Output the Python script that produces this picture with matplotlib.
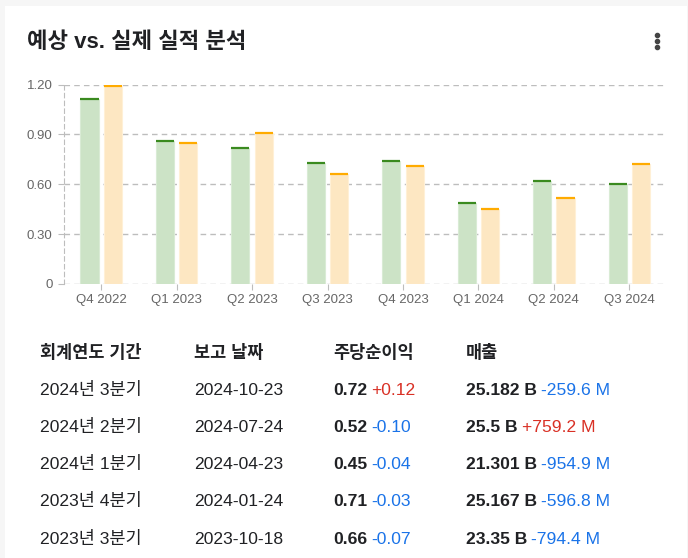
import matplotlib
matplotlib.use("Agg")
import matplotlib.pyplot as plt
from matplotlib.patches import Rectangle
from matplotlib.lines import Line2D

plt.rcParams["font.family"] = ["Liberation Sans", "Noto Sans CJK KR"]

# -----------------------------
# Chart data
# -----------------------------
quarters = ["Q4 2022", "Q1 2023", "Q2 2023", "Q3 2023",
            "Q4 2023", "Q1 2024", "Q2 2024", "Q3 2024"]
estimate = [1.11, 0.86, 0.82, 0.73, 0.74, 0.49, 0.62, 0.60]
actual = [1.19, 0.85, 0.91, 0.66, 0.71, 0.45, 0.52, 0.72]
y_ticks = [0, 0.30, 0.60, 0.90, 1.20]
y_tick_labels = ["0", "0.30", "0.60", "0.90", "1.20"]

# table data
headers = ["회계연도 기간", "보고 날짜", "주당순이익", "매출"]
periods = ["2024년 3분기", "2024년 2분기", "2024년 1분기", "2023년 4분기", "2023년 3분기"]
dates = ["2024-10-23", "2024-07-24", "2024-04-23", "2024-01-24", "2023-10-18"]
eps = ["0.72", "0.52", "0.45", "0.71", "0.66"]
eps_diff = ["+0.12", "-0.10", "-0.04", "-0.03", "-0.07"]
revenue = ["25.182 B", "25.5 B", "21.301 B", "25.167 B", "23.35 B"]
revenue_diff = ["-259.6 M", "+759.2 M", "-954.9 M", "-596.8 M", "-794.4 M"]

W, H = 688, 558
GREEN_FILL = "#cce3c6"
GREEN_TOP = "#3a8a1f"
ORANGE_FILL = "#fde7c2"
ORANGE_TOP = "#ffab00"
DARK = "#202124"
RED = "#d93025"
BLUE = "#1a73e8"
GRID = "#bdbdbd"
TABLE_SIZE = 12.6


def px(x):
    return x / W


def py(y):
    return 1 - y / H


fig = plt.figure(figsize=(W / 100, H / 100), dpi=100)
fig.patch.set_facecolor("#f6f6f6")
fig.patches.append(Rectangle((px(5), 0), px(682), py(6), transform=fig.transFigure,
                             facecolor="white", edgecolor="none", zorder=-5))

# title and menu dots
fig.text(px(27), py(48), "예상 vs. 실제 실적 분석", fontsize=16, fontweight="bold",
         color=DARK, va="baseline", ha="left")
for yy in (35, 41, 47):
    fig.lines.append(Line2D([px(657)], [py(yy)], marker="o", markersize=3,
                            color="#444444", transform=fig.transFigure))

# -----------------------------
# Bar chart
# -----------------------------
ax_left, ax_right, ax_top, ax_bottom = 63.5, 667, 84.5, 284
ax = fig.add_axes([px(ax_left), py(ax_bottom), px(ax_right - ax_left), (ax_bottom - ax_top) / H])
ax.set_facecolor("none")

x = list(range(len(quarters)))
bw = 0.24
off = 0.155
xg = [i - off for i in x]
xo = [i + off for i in x]
ax.bar(xg, estimate, width=bw, color=GREEN_FILL, edgecolor="#d9ebd5", linewidth=0.8, zorder=2)
ax.bar(xo, actual, width=bw, color=ORANGE_FILL, edgecolor="#fff0d6", linewidth=0.8, zorder=2)
ax.hlines(estimate, [v - bw / 2 for v in xg], [v + bw / 2 for v in xg],
          color=GREEN_TOP, linewidth=1.6, zorder=3)
ax.hlines(actual, [v - bw / 2 for v in xo], [v + bw / 2 for v in xo],
          color=ORANGE_TOP, linewidth=1.6, zorder=3)

ax.set_xlim(-0.5, len(quarters) - 0.5)
ax.set_ylim(0, 1.2)
ax.set_xticks(x)
ax.set_xticklabels(quarters)
ax.set_yticks(y_ticks)
ax.set_yticklabels(y_tick_labels)
ax.grid(axis="y", color=GRID, linestyle=(0, (4, 3)), linewidth=1, zorder=1)
for side in ("top", "right", "bottom"):
    ax.spines[side].set_visible(False)
ax.spines["left"].set_color(GRID)
ax.spines["left"].set_linestyle((0, (4, 3)))
ax.tick_params(axis="x", length=4, color=GRID, labelsize=9.5, labelcolor="#666666", pad=3)
ax.tick_params(axis="y", length=4, color=GRID, labelsize=9.5, labelcolor="#666666", pad=4)

# -----------------------------
# Table below the chart
# -----------------------------
renderer = fig.canvas.get_renderer()


def draw_pieces(x0, y0, pieces, size=TABLE_SIZE):
    xx = px(x0)
    for text, color, weight, gap in pieces:
        xx += px(gap)
        t = fig.text(xx, py(y0), text, fontsize=size, color=color, fontweight=weight,
                     va="baseline", ha="left")
        bb = t.get_window_extent(renderer=renderer)
        xx = bb.x1 / W


col_x = [40, 194, 333, 466]
header_y = 352
row_y = [389, 426, 463, 500, 538]
base_off = 6

for cx, h in zip(col_x, headers):
    fig.text(px(cx), py(header_y + base_off), h, fontsize=TABLE_SIZE, fontweight="semibold",
             color=DARK, va="baseline", ha="left")

for i, ry in enumerate(row_y):
    yb = ry + base_off
    fig.text(px(col_x[0]), py(yb), periods[i], fontsize=TABLE_SIZE, color=DARK, va="baseline")
    fig.text(px(col_x[1]), py(yb), dates[i], fontsize=TABLE_SIZE, color=DARK, va="baseline")
    c1 = RED if eps_diff[i].startswith("+") else BLUE
    draw_pieces(col_x[2], yb, [(eps[i], DARK, "bold", 0), (eps_diff[i], c1, "normal", 4)])
    c2 = RED if revenue_diff[i].startswith("+") else BLUE
    draw_pieces(col_x[3], yb, [(revenue[i], DARK, "bold", 0), (revenue_diff[i], c2, "normal", 4)])

fig.savefig("out.png", dpi=100, facecolor=fig.get_facecolor())
